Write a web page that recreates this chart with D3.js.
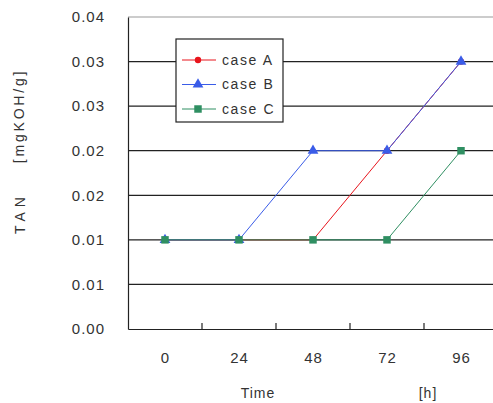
<!DOCTYPE html>
<html>
<head>
<meta charset="utf-8">
<script src="https://cdn.jsdelivr.net/npm/d3@7"></script>
<style>
  body { margin: 0; background: #fff; }
  text { font-family: "Liberation Sans", Arial, sans-serif; fill: #333; }
</style>
</head>
<body>
<div id="chart"></div>
<script>
const hours = [0, 24, 48, 72, 96];
const caseA = [0.01, 0.01, 0.01, 0.02, 0.03];
const caseB = [0.01, 0.01, 0.02, 0.02, 0.03];
const caseC = [0.01, 0.01, 0.01, 0.01, 0.02];
const seriesNames = ["case A", "case B", "case C"];
const yTicks = [0, 0.005, 0.01, 0.015, 0.02, 0.025, 0.03, 0.035];

let width = 493,
  height = 403;

let svg = d3.select("#chart")
  .append("svg")
  .attr("width", width)
  .attr("height", height);

let x = d3.scaleLinear()
  .domain([-12, 108])
  .range([128, 498]);

let y = d3.scaleLinear()
  .domain([0, 0.035])
  .range([329, 17]);

let colors = d3.scaleOrdinal()
  .domain(seriesNames)
  .range(["#e8141c", "#3a5ce8", "#2f8f62"]);

let shapes = d3.scaleOrdinal()
  .domain(seriesNames)
  .range([d3.symbolCircle, d3.symbolTriangle, d3.symbolSquare]);

let sizes = d3.scaleOrdinal()
  .domain(seriesNames)
  .range([32, 50, 56]);

// gridlines
svg.append("g")
  .selectAll("line")
  .data(yTicks.slice(1))
  .join("line")
  .attr("x1", 128)
  .attr("x2", width)
  .attr("y1", d => y(d))
  .attr("y2", d => y(d))
  .attr("stroke", (d, i) => i === yTicks.length - 2 ? "#999" : "#222")
  .attr("stroke-width", 1.2);

// y axis
let yAxis = svg.append("g")
  .attr("transform", "translate(128,0)")
  .call(d3.axisLeft(y).tickValues(yTicks).tickSize(0).tickPadding(23)
    .tickFormat(d => (Math.round(d * 100 + 1e-9) / 100).toFixed(2)));
yAxis.select(".domain").attr("stroke", "#222").attr("stroke-width", 1.2);
yAxis.selectAll("text").attr("font-size", 15).attr("fill", "#333")
  .attr("letter-spacing", 1)
  .style("font-family", "'Liberation Sans', Arial, sans-serif");

// x axis
let xAxis = svg.append("g")
  .attr("transform", "translate(0,329)")
  .call(d3.axisBottom(x).tickValues(hours).tickSize(0).tickPadding(23).tickFormat(d3.format("d")));
xAxis.select(".domain").attr("stroke", "#222").attr("stroke-width", 1.2);
xAxis.selectAll("text").attr("font-size", 15).attr("fill", "#333")
  .attr("letter-spacing", 1)
  .style("font-family", "'Liberation Sans', Arial, sans-serif");

// tick marks between categories
svg.append("g")
  .selectAll("line")
  .data(hours.slice(0, -1))
  .join("line")
  .attr("x1", d => x(d + 12))
  .attr("x2", d => x(d + 12))
  .attr("y1", 329)
  .attr("y2", 323)
  .attr("stroke", "#222")
  .attr("stroke-width", 1.2);

let series = [caseA, caseB, caseC].map((vals, i) => ({
  name: seriesNames[i],
  values: vals.map((v, j) => ({ t: hours[j], v: v }))
}));

let line = d3.line()
  .x(d => x(d.t))
  .y(d => y(d.v));

let g = svg.append("g");

series.forEach(s => {
  g.append("path")
    .datum(s.values)
    .attr("fill", "none")
    .attr("stroke", colors(s.name))
    .attr("stroke-width", 1)
    .attr("d", line);
  g.selectAll(null)
    .data(s.values)
    .join("path")
    .attr("transform", d => `translate(${x(d.t)},${y(d.v)})`)
    .attr("d", d3.symbol().type(shapes(s.name)).size(sizes(s.name)))
    .attr("fill", colors(s.name));
});

// legend
let legend = svg.append("g")
  .attr("transform", "translate(176,39)");
legend.append("rect")
  .attr("width", 107)
  .attr("height", 83)
  .attr("fill", "#fff")
  .attr("stroke", "#222")
  .attr("stroke-width", 1.2);

let items = legend.selectAll("g")
  .data(seriesNames)
  .join("g")
  .attr("transform", (d, i) => `translate(0,${21 + i * 24.5})`);
items.append("line")
  .attr("x1", 6)
  .attr("x2", 40)
  .attr("stroke", d => colors(d))
  .attr("stroke-width", 1);
items.append("path")
  .attr("transform", "translate(22,0)")
  .attr("d", d => d3.symbol().type(shapes(d)).size(sizes(d))())
  .attr("fill", d => colors(d));
items.append("text")
  .attr("x", 46)
  .attr("dy", "0.35em")
  .attr("font-size", 14)
  .attr("letter-spacing", 1.6)
  .text(d => d);

// axis titles
svg.append("text")
  .attr("transform", "translate(25,213) rotate(-90)")
  .attr("text-anchor", "middle")
  .attr("font-size", 14)
  .attr("letter-spacing", 5)
  .text("TAN");
svg.append("text")
  .attr("transform", "translate(24,116) rotate(-90)")
  .attr("text-anchor", "middle")
  .attr("font-size", 14)
  .attr("letter-spacing", 2.8)
  .text("[mgKOH/g]");
svg.append("text")
  .attr("x", 258)
  .attr("y", 398)
  .attr("text-anchor", "middle")
  .attr("font-size", 14)
  .attr("letter-spacing", 1)
  .text("Time");
svg.append("text")
  .attr("x", 428)
  .attr("y", 398)
  .attr("text-anchor", "middle")
  .attr("font-size", 14)
  .attr("letter-spacing", 1)
  .text("[h]");
</script>
</body>
</html>
